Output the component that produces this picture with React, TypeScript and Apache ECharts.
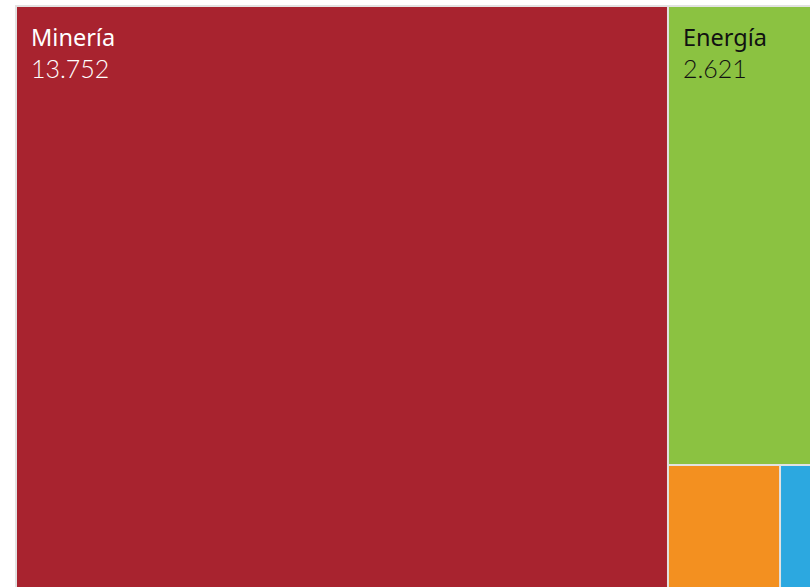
import React, { useEffect, useRef } from "react";
import * as echarts from "echarts";

const categories = ["Minería", "Energía", "Hidrocarburos", "Infraestructura"];
const values = [13752, 2621, 732, 444];
const colors = ["#a8232f", "#8bc241", "#f39020", "#2ca8e0"];
const labelColors = ["#ffffff", "#111111", "#111111", "#ffffff"];
const showLabel = [true, true, false, false];

const fmt = (v: number) => v.toLocaleString("de-DE");

const TM_LEFT = 15;
const TM_TOP = 5;
const TM_W = 834;
const TM_H = 667;

export default function App() {
  const ref = useRef<HTMLDivElement>(null);
  useEffect(() => {
    if (!ref.current) return;
    const chart = echarts.init(ref.current, undefined, { renderer: "svg" });
    const data = categories.map((name, i) => ({
      name,
      value: values[i],
      itemStyle: { color: colors[i] },
      label: {
        show: showLabel[i],
        rich: {
          n: { fontFamily: "Noto Sans", fontSize: 23.5, lineHeight: 30, color: labelColors[i] },
          v: { fontFamily: "Lato", fontWeight: 300, fontSize: 25, lineHeight: 32, color: labelColors[i] },
        },
      },
    }));
    chart.setOption({
      animation: false,
      backgroundColor: "#ffffff",
      graphic: [
        {
          type: "rect",
          z: -10,
          silent: true,
          shape: { x: TM_LEFT, y: TM_TOP, width: TM_W, height: TM_H },
          style: { fill: "#e2e2e2" },
        },
      ],
      series: [
        {
          type: "treemap",
          left: TM_LEFT,
          top: TM_TOP,
          width: TM_W,
          height: TM_H,
          roam: false,
          nodeClick: false,
          breadcrumb: { show: false },
          squareRatio: 0.5 * (1 + Math.sqrt(5)),
          levels: [
            {
              itemStyle: { borderColor: "#e2e2e2", borderWidth: 2, gapWidth: 2 },
            },
            {
              itemStyle: { borderColor: "#e2e2e2", borderWidth: 0, gapWidth: 0 },
            },
          ],
          label: {
            show: true,
            position: "insideTopLeft",
            distance: 0,
            padding: [15, 14],
            formatter: (p: any) => `{n|${p.name}}\n{v|${fmt(p.value)}}`,
          },
          data,
        },
      ],
    });
    return () => chart.dispose();
  }, []);
  return (
    <div style={{ position: "fixed", left: 0, top: 0, width: 810, height: 587, overflow: "hidden", background: "#fff" }}>
      <div ref={ref} style={{ position: "absolute", left: 0, top: 0, width: 860, height: 700 }} />
    </div>
  );
}
